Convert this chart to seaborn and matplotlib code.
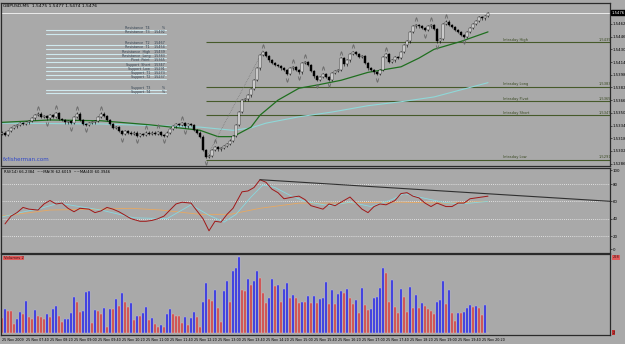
import numpy as np
import pandas as pd
import seaborn as sns
import matplotlib.pyplot as plt
from matplotlib.lines import Line2D

# price data, in pips above 1.5300 (M5 closes, 25 Nov)
base = 1.5300
first_open = 23
close_pips = [25, 22, 27, 31, 33, 35, 37, 36, 38, 40,
              43, 47, 49, 45, 46, 43, 47, 45, 50, 42,
              41, 38, 40, 37, 45, 49, 41, 36, 35, 37,
              38, 40, 45, 49, 46, 41, 36, 31, 32, 27,
              23, 27, 25, 23, 25, 21, 23, 22, 25, 23,
              25, 23, 26, 22, 21, 25, 30, 33, 36, 35,
              37, 33, 36, 35, 28, 25, 20, 3, -6, -4,
              3, 7, 4, 6, 8, 11, 15, 21, 35, 51,
              66, 67, 72, 80, 91, 106, 123, 127, 122, 116,
              113, 110, 109, 106, 104, 99, 106, 108, 104, 101,
              113, 114, 110, 103, 96, 91, 95, 99, 95, 92,
              100, 103, 104, 119, 111, 116, 124, 127, 124, 120,
              122, 113, 106, 104, 101, 99, 104, 120, 124, 114,
              116, 120, 119, 127, 135, 140, 152, 159, 161, 159,
              157, 154, 159, 161, 156, 140, 143, 162, 165, 161,
              158, 154, 152, 148, 146, 152, 157, 162, 166, 171,
              169, 172, 176]

volumes = [45, 72, 68, 68, 28, 43, 64, 58, 97, 48,
           42, 70, 53, 48, 42, 58, 50, 72, 82, 52,
           35, 42, 43, 62, 108, 95, 65, 67, 124, 127,
           30, 70, 68, 58, 75, 20, 72, 72, 103, 82,
           122, 95, 80, 92, 40, 53, 53, 62, 78, 40,
           47, 28, 20, 25, 20, 58, 72, 58, 53, 53,
           30, 48, 25, 45, 63, 48, 18, 93, 150, 102,
           98, 130, 77, 35, 128, 158, 93, 187, 197, 228,
           130, 128, 163, 145, 158, 187, 167, 122, 90, 105,
           162, 143, 145, 95, 133, 150, 105, 115, 105, 92,
           95, 95, 112, 90, 112, 90, 102, 107, 154, 88,
           130, 88, 118, 128, 122, 132, 107, 87, 100, 62,
           137, 85, 70, 73, 105, 110, 137, 197, 180, 95,
           160, 80, 62, 133, 108, 63, 139, 77, 115, 77,
           90, 82, 72, 68, 58, 95, 100, 157, 88, 129,
           62, 38, 62, 62, 65, 77, 85, 80, 82, 75,
           55, 85, 2]

# moving averages on the price chart (bar index, pips)
ma_fast_bars = [0, 16, 33, 49, 59, 66, 72, 77, 83, 86, 92, 99, 105, 113, 122, 133, 139, 144, 153, 162]
ma_fast_pips = [38, 41, 40, 35, 31, 28, 20, 20, 32, 47, 66, 81, 85, 91, 101, 108, 119, 130, 140, 152]
ma_slow_bars = [0, 33, 66, 77, 83, 88, 99, 110, 122, 133, 144, 155, 162]
ma_slow_pips = [37, 36, 32, 28, 31, 37, 45, 51, 59, 64, 70, 81, 88]

level_names = ["Intraday High", "Intraday Long", "Intraday Pivot", "Intraday Short", "Intraday Low"]
level_prices = [1.5439, 1.5383, 1.5365, 1.5347, 1.5291]
level_start = 68
zigzag_bars = [68, 87]
bid = 1.5476
price_ticks = [1.5462, 1.5446, 1.5430, 1.5414, 1.5398, 1.5382,
               1.5366, 1.5350, 1.5334, 1.5318, 1.5302, 1.5286]

sr_names = ["Resistance  T4", "Resistance  T3", "Resistance  T2", "Resistance  T1",
            "Resistance  High", "Resistance  Long", "Pivot  Point", "Support  Short",
            "Support  Low", "Support  T1", "Support  T2", "Support  T3", "Support  T4"]
sr_values = ["%", "1.5492", "1.5467", "1.5454", "1.5439", "1.5383", "1.5365",
             "1.5347", "1.5291", "1.5273", "1.5237", "%", "%"]

# RSI panel
rsi_bars = [1, 3, 5, 7, 9, 12, 14, 16, 18, 20, 22, 24, 26, 29, 31, 33, 35, 37, 39, 41,
            43, 46, 48, 50, 52, 54, 56, 58, 60, 63, 65, 67, 69, 71, 73, 75, 77, 80, 82, 84,
            86, 88, 90, 92, 94, 97, 99, 101, 103, 105, 107, 109, 111, 114, 116, 118, 120, 122,
            124, 126, 128, 131, 133, 135, 137, 139, 141, 143, 145, 148, 150, 152, 154, 156,
            158, 160, 162]
rsi_vals = [34, 43, 47, 53, 51, 50, 57, 61, 57, 58, 52, 48, 52, 51, 47, 49, 53, 51, 48, 44,
            40, 37, 37, 38, 40, 43, 50, 57, 59, 58, 49, 40, 26, 37, 36, 45, 52, 71, 72, 76,
            85, 82, 74, 70, 63, 65, 66, 62, 55, 53, 51, 57, 55, 61, 65, 58, 51, 47, 54, 57,
            56, 61, 69, 70, 66, 64, 58, 54, 58, 54, 54, 58, 58, 63, 64, 65, 66]
ma9_bars = [0, 6, 13, 19, 24, 33, 44, 55, 63, 66, 69, 74, 78, 83, 87, 91, 96, 101, 109,
            116, 123, 130, 134, 139, 147, 153, 162]
ma9_vals = [42, 47, 52, 58, 55, 50, 41, 40, 56, 50, 44, 36, 45, 65, 79, 76, 67, 60, 55,
            59, 54, 62, 69, 65, 59, 57, 60]
ma40_bars = [0, 16, 33, 43, 53, 66, 76, 86, 99, 109, 133, 149, 162]
ma40_vals = [43, 50, 51, 52, 50, 45, 45, 52, 58, 58, 59, 58, 60]
trend_bars = [86, 203]
trend_vals = [85, 60]

time_labels = ["25 Nov 2009", "25 Nov 07:40", "25 Nov 08:20", "25 Nov 09:00", "25 Nov 09:40",
               "25 Nov 10:20", "25 Nov 11:00", "25 Nov 11:40", "25 Nov 12:20", "25 Nov 13:00",
               "25 Nov 13:40", "25 Nov 14:20", "25 Nov 15:00", "25 Nov 15:40", "25 Nov 16:20",
               "25 Nov 17:00", "25 Nov 17:40", "25 Nov 18:20", "25 Nov 19:00", "25 Nov 19:40",
               "25 Nov 20:20"]

bg = '#a9a9a9'
sns.set_theme(style="white", rc={"axes.facecolor": bg, "figure.facecolor": bg})
plt.rcParams['font.family'] = ['DejaVu Sans']

n = len(close_pips)
bars = np.arange(n)
close = base + np.array(close_pips) / 1e4
opn = np.concatenate([[base + first_open / 1e4], close[:-1]])
wick = 0.00015
high = np.maximum(opn, close) + wick
low = np.minimum(opn, close) - wick

df = pd.DataFrame({'bar': bars, 'open': opn, 'close': close, 'high': high,
                   'low': low, 'volume': volumes})
df['up'] = df.close >= df.open

W, H = 625, 344
fig = plt.figure(figsize=(6.25, 3.44), dpi=100)


def box(x0, y0, x1, y1):
    return [x0 / W, 1 - y1 / H, (x1 - x0) / W, (y1 - y0) / H]


ax_p = fig.add_axes(box(1, 3, 610, 166))
ax_r = fig.add_axes(box(1, 168, 610, 253))
ax_v = fig.add_axes(box(1, 254, 610, 335))

xlo = -1 / 3
xhi = xlo + 609 / 3
for ax in (ax_p, ax_r, ax_v):
    ax.set_xlim(xlo, xhi)
    ax.yaxis.tick_right()
    ax.tick_params(axis='y', labelsize=2.8, length=1.5, width=0.4, pad=0.6, colors='black')
    for s in ax.spines.values():
        s.set_color('#2a2a2a')
        s.set_linewidth(0.9)

# ---- price panel
ax_p.set_ylim(base - 0.0017, base + 0.01884)
ax_p.set_xticks([])
ax_p.set_yticks(price_ticks)
ax_p.set_yticklabels([f'{t:.4f}' for t in price_ticks])

ax_p.axhline(bid, color='#ececec', lw=0.7, zorder=1)
for name, lv in zip(level_names, level_prices):
    ax_p.hlines(lv, level_start, xhi, color='#465a2a', lw=0.8, zorder=1)
    ax_p.text(167, lv + 0.00003, name, fontsize=2.6, color='#3a4a22', va='bottom', ha='left')
    ax_p.text(199, lv + 0.00003, f'{lv:.4f}', fontsize=2.6, color='#3a4a22', va='bottom', ha='left')

sns.lineplot(x=ma_slow_bars, y=base + np.array(ma_slow_pips) / 1e4, ax=ax_p,
             color='#8fd8d8', lw=0.8, zorder=2)
sns.lineplot(x=ma_fast_bars, y=base + np.array(ma_fast_pips) / 1e4, ax=ax_p,
             color='#1f6f1f', lw=0.9, zorder=2)

zz = df.loc[zigzag_bars]
ax_p.plot(zz.bar, [zz.low.iloc[0], zz.high.iloc[1]], color='#707070', lw=0.5, ls=(0, (1, 1.5)), zorder=2)

ax_p.vlines(df.bar, df.low, df.high, color='black', lw=0.4, zorder=3)
body = np.maximum((df.close - df.open).abs(), 0.00003)
ax_p.bar(df.bar, body, bottom=np.minimum(df.open, df.close), width=0.62,
         color=np.where(df.up, 'white', 'black'), edgecolor='black', lw=0.3, zorder=4)

# fractals
up_fr, dn_fr = [], []
for i in range(2, n - 2):
    if high[i] > high[i - 2:i].max() and high[i] >= high[i + 1:i + 3].max():
        up_fr.append(i)
    if low[i] < low[i - 2:i].min() and low[i] <= low[i + 1:i + 3].min():
        dn_fr.append(i)
ax_p.scatter(up_fr, high[up_fr] + 0.00055, marker=r'$\wedge$', s=7, color='#6a6a6a', lw=0.2, zorder=5)
ax_p.scatter(dn_fr, low[dn_fr] - 0.00055, marker=r'$\vee$', s=7, color='#6a6a6a', lw=0.2, zorder=5)

ax_p.text(xhi + 0.5, bid, f'{bid:.4f}', fontsize=2.7, color='white', va='center',
          ha='left', bbox=dict(boxstyle='square,pad=0.12', fc='black', ec='black'), clip_on=False)
ax_p.set_xlabel('')
ax_p.set_ylabel('')

fig.text(3 / W, 1 - 6 / H, 'GBPUSD,M5  1.5475 1.5477 1.5474 1.5476', fontsize=3.2, color='black', va='center')
fig.text(3 / W, 1 - 160 / H, 'fxfisherman.com', fontsize=4.0, color='#3048c8', va='center')

# support / resistance table
sr_y = [28, 32, 43, 47, 52, 56, 60, 65, 69, 73, 77, 88, 92]
for name, val, yy in zip(sr_names, sr_values, sr_y):
    fig.add_artist(Line2D([46 / W, 166 / W], [1 - (yy + 1.5) / H] * 2, color='#cfe9ef', lw=0.8))
    fig.text(150 / W, 1 - yy / H, name, fontsize=2.4, color='#304050', ha='right', va='center')
    fig.text(165 / W, 1 - yy / H, val, fontsize=2.4, color='#304050', ha='right', va='center')

# ---- RSI panel
ax_r.set_ylim(0.4, 98.5)
ax_r.set_xticks([])
ax_r.set_yticks([5, 20, 40, 60, 80, 96])
ax_r.set_yticklabels(['0', '20', '40', '60', '80', '100'])
for lv in (20, 40, 60, 80):
    ax_r.axhline(lv, color='#f2f2f2', lw=0.6, ls=(0, (1, 1.5)), zorder=1)
sns.lineplot(x=ma40_bars, y=ma40_vals, ax=ax_r, color='#e8a860', lw=0.6, zorder=2)
sns.lineplot(x=ma9_bars, y=ma9_vals, ax=ax_r, color='#88d8e0', lw=0.6, zorder=2)
sns.lineplot(x=rsi_bars, y=rsi_vals, ax=ax_r, color='#a01818', lw=0.7, zorder=3)
sns.lineplot(x=trend_bars, y=trend_vals, ax=ax_r, color='#303030', lw=0.8, zorder=3)
ax_r.text(0.5, 94, 'RSI(14) 66.2384  ~~MA(9) 62.6019  ~~MA(40) 60.3946', fontsize=2.7,
          color='black', va='center')
ax_r.set_xlabel('')
ax_r.set_ylabel('')

# ---- volume panel
ax_v.set_ylim(-5, 238)
rise = np.concatenate([[False], np.diff(df.volume.values) > 0])
ax_v.bar(df.bar, df.volume, width=0.5, color=np.where(rise, '#2828d8', '#c84040'),
         edgecolor=np.where(rise, '#b0b0ff', '#f0b0b0'), lw=0.3, zorder=2)
ax_v.set_yticks([])
ax_v.text(0.5, 226, 'Volumes 2', fontsize=2.7, color='#401010', va='center',
          bbox=dict(boxstyle='square,pad=0.12', fc='#e05a5a', ec='none'))
ax_v.text(xhi + 0.8, 228, '228', fontsize=2.6, color='#401010', va='center', clip_on=False,
          bbox=dict(boxstyle='square,pad=0.12', fc='#e05a5a', ec='none'))
ax_v.text(xhi + 0.8, 2, '2', fontsize=2.6, color='#401010', va='center', clip_on=False,
          bbox=dict(boxstyle='square,pad=0.12', fc='#c03030', ec='none'))
ax_v.set_xticks(np.arange(len(time_labels)) * 8)
ax_v.set_xticklabels(time_labels, fontsize=2.4, ha='left')
ax_v.tick_params(axis='x', length=1.5, width=0.4, pad=0.8, colors='black')
ax_v.set_xlabel('')
ax_v.set_ylabel('')

fig.savefig('out.png', dpi=100, facecolor=bg)
